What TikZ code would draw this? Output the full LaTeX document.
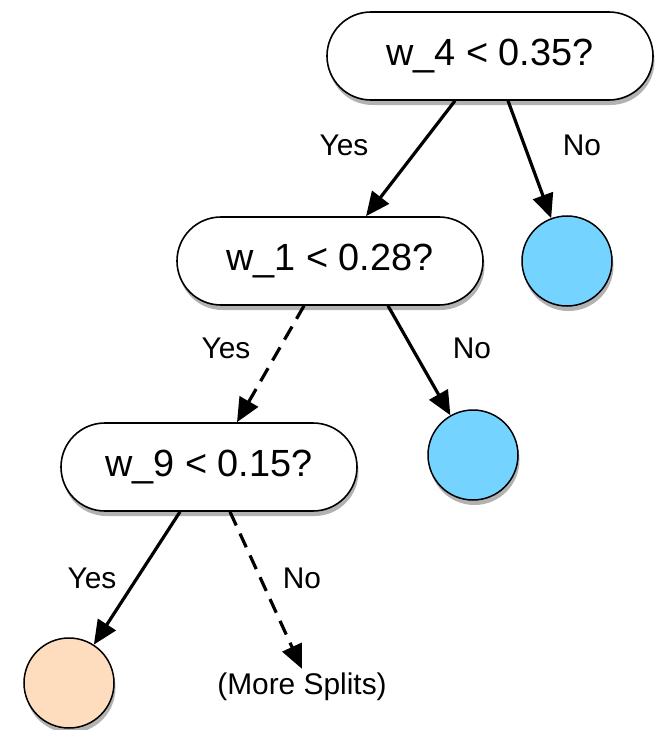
\documentclass[tikz,border=0pt]{standalone}
\usepackage{fontspec}
\setmainfont{Liberation Sans}
\usetikzlibrary{arrows.meta,shadows}
\definecolor{leafblue}{RGB}{117,211,255}
\definecolor{leafpeach}{RGB}{254,221,190}
\tikzset{
  shade/.style={drop shadow={shadow xshift=1.5bp,shadow yshift=-5bp,fill=black,opacity=0.3}},
  test/.style={draw=black,line width=1.6bp,fill=white,rectangle,rounded corners=44bp,
    minimum height=88bp,inner sep=0pt,font=\fontsize{38}{42}\selectfont,shade},
  leaf/.style={draw=black,line width=1.5bp,circle,minimum size=90bp,inner sep=0pt,shade},
  lbl/.style={font=\fontsize{30}{33}\selectfont,inner sep=0pt},
  edge/.style={line width=3.2bp,-{Triangle[length=24bp,width=21bp]}},
  dedge/.style={edge,dash pattern=on 15bp off 9bp}
}
\begin{document}
\begin{tikzpicture}[x=1bp,y=-1bp]
\useasboundingbox (0,0) rectangle (658,730);
\node[test,minimum width=326bp] (t1) at (490,56) {w\_4 < 0.35?};
\node[test,minimum width=306bp] (t2) at (330,261) {w\_1 < 0.28?};
\node[test,minimum width=296bp] (t3) at (209,467) {w\_9 < 0.15?};
\node[leaf,fill=leafblue] (b1) at (567,261) {};
\node[leaf,fill=leafblue] (b2) at (473,455) {};
\node[leaf,fill=leafpeach] (p1) at (69,683) {};
\node[lbl,inner ysep=4bp] (more) at (302,687) {(More Splits)};
\draw[edge] ([xshift=-35bp]t1.south) -- ([xshift=36bp]t2.north);
\draw[edge] ([xshift=18bp]t1.south) -- (b1);
\draw[dedge] ([xshift=-26bp]t2.south) -- ([xshift=28bp]t3.north);
\draw[edge] ([xshift=58bp]t2.south) -- (b2);
\draw[edge] ([xshift=-29bp]t3.south) -- (p1);
\draw[dedge] ([xshift=21bp]t3.south) -- (more.north);
\node[lbl] (y1) at (344,145) {Yes};
\node[lbl] (n1) at (582,145) {No};
\node[lbl] (y2) at (226,348) {Yes};
\node[lbl] (n2) at (472,348) {No};
\node[lbl] (y3) at (92,578) {Yes};
\node[lbl] (n3) at (302,578) {No};
\end{tikzpicture}
\end{document}
